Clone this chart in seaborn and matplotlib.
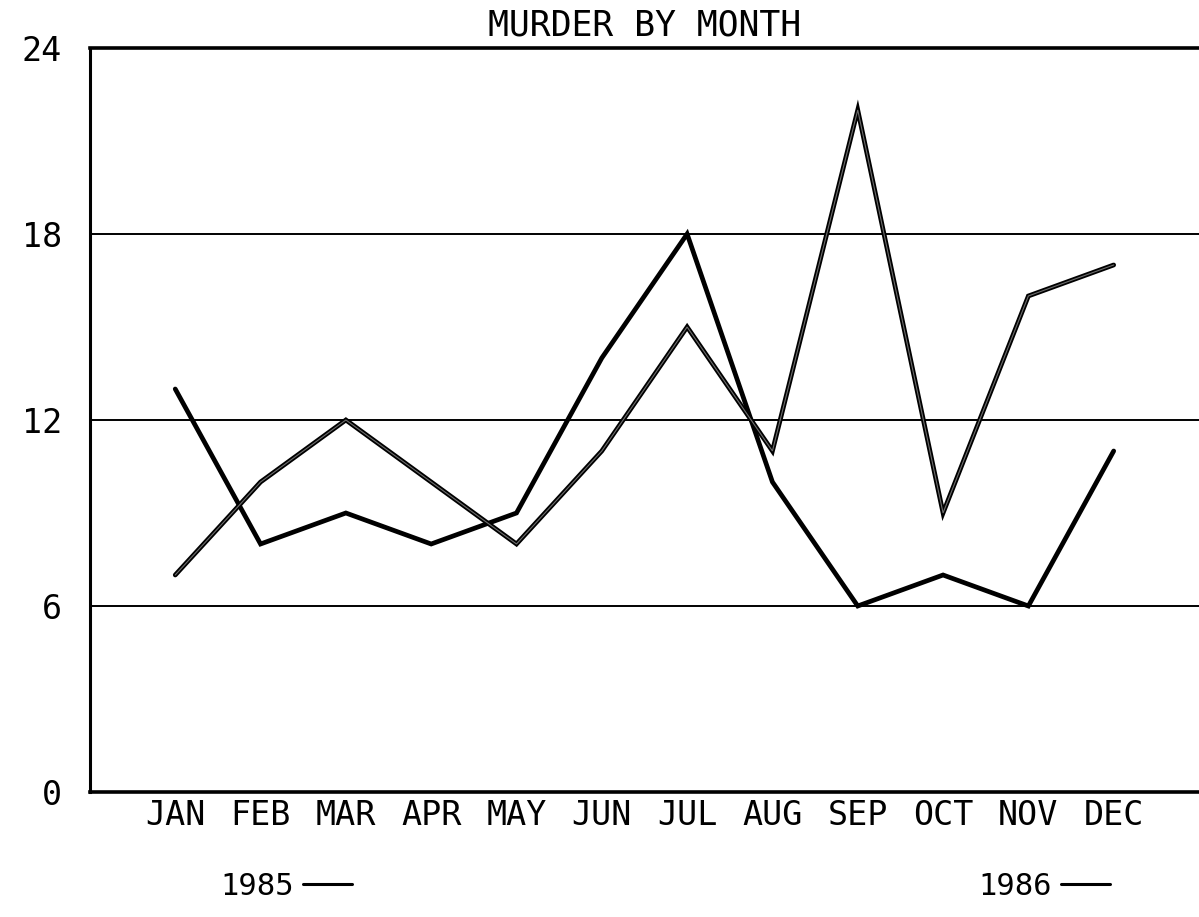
import seaborn as sns
import matplotlib.pyplot as plt
import matplotlib.patheffects as pe
from matplotlib.lines import Line2D

# values
months = ['JAN', 'FEB', 'MAR', 'APR', 'MAY', 'JUN',
          'JUL', 'AUG', 'SEP', 'OCT', 'NOV', 'DEC']
month_pos = list(range(1, 13))
murders_1985 = [13, 8, 9, 8, 9, 14, 18, 10, 6, 7, 6, 11]
murders_1986 = [7, 10, 12, 10, 8, 11, 15, 11, 22, 9, 16, 17]
y_ticks = [0, 6, 12, 18, 24]
y_labels = ['0', '6', '12', '18', '24']

sns.set_style('white')
plt.rcParams['font.family'] = ['DejaVu Sans Mono', 'DejaVu Sans']
plt.rcParams['text.color'] = 'black'

fig = plt.figure(figsize=(11.99, 9.17), dpi=100)
ax = fig.add_axes([0.075, 0.1363, 0.925, 0.8114])

# the two years
sns.lineplot(x=month_pos, y=murders_1985, ax=ax, color='black',
             linewidth=3.4, solid_joinstyle='miter')
outline = [pe.Stroke(linewidth=3.4, foreground='black'), pe.Normal()]
sns.lineplot(x=month_pos, y=murders_1986, ax=ax, color='#6e6e6e',
             linewidth=0.8, path_effects=outline, solid_joinstyle='miter')

ax.set_xlim(0, 13)
ax.set_ylim(0, 24)

# horizontal rules at 6, 12, 18
for yv in y_ticks[1:-1]:
    ax.axhline(yv, color='black', linewidth=1.4, zorder=0)

ax.set_xticks(month_pos)
ax.set_xticklabels(months)
ax.set_yticks(y_ticks)
ax.set_yticklabels(y_labels)
ax.tick_params(axis='x', direction='in', length=11, width=1.8,
               labelsize=24, pad=5, colors='black')
ax.tick_params(axis='y', direction='in', length=6, width=1.8,
               labelsize=24, pad=20, colors='black')

for side in ['top', 'bottom']:
    ax.spines[side].set_linewidth(2.6)
ax.spines['left'].set_linewidth(2.2)
ax.spines['right'].set_visible(False)
for side in ['top', 'bottom', 'left']:
    ax.spines[side].set_color('black')

ax.set_xlabel('')
ax.set_ylabel('')
ax.set_title('MURDER BY MONTH', fontsize=25, pad=9, x=0.5, color='black')

handles = [Line2D([], [], color='black', linewidth=2.2),
           Line2D([], [], color='black', linewidth=2.2)]
fig.legend(handles, ['1985', '1986'], loc='lower center',
           bbox_to_anchor=(0.555, -0.012), ncol=2, frameon=False,
           markerfirst=False, fontsize=22, handlelength=1.6,
           handletextpad=0.3, columnspacing=20.5)

fig.savefig('out.png', dpi=100, facecolor='white')
